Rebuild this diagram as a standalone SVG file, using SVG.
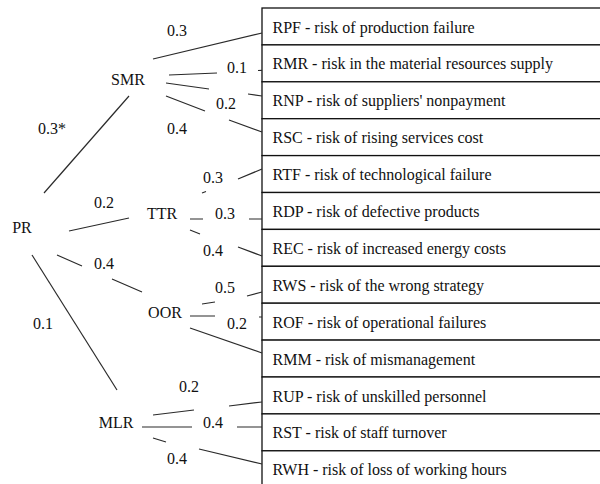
<svg xmlns="http://www.w3.org/2000/svg" width="600" height="484" viewBox="0 0 600 484">
<style>
text{font-family:'Liberation Serif','Times New Roman',Times,'DejaVu Serif',serif;font-size:16px;fill:#111}
.c{text-anchor:middle}
.row{fill:#fff;stroke:#111;stroke-width:1.3}
.conn path{fill:none;stroke:#2a2a2a;stroke-width:1.2}
</style>
<rect width="600" height="484" fill="#fff"/>
<g id="risk-table" font-family="Liberation Serif, Times New Roman, serif">
<g id="RPF"><rect class="row" x="262" y="8" width="350" height="36.9"/><text x="272.5" y="32.5">RPF - risk of production failure</text></g>
<g id="RMR"><rect class="row" x="262" y="44.9" width="350" height="36.9"/><text x="272.5" y="69.4">RMR - risk in the material resources supply</text></g>
<g id="RNP"><rect class="row" x="262" y="81.8" width="350" height="36.9"/><text x="272.5" y="106.3">RNP - risk of suppliers' nonpayment</text></g>
<g id="RSC"><rect class="row" x="262" y="118.7" width="350" height="36.9"/><text x="272.5" y="143.2">RSC - risk of rising services cost</text></g>
<g id="RTF"><rect class="row" x="262" y="155.6" width="350" height="36.9"/><text x="272.5" y="180.1">RTF - risk of technological failure</text></g>
<g id="RDP"><rect class="row" x="262" y="192.5" width="350" height="36.9"/><text x="272.5" y="217">RDP - risk of defective products</text></g>
<g id="REC"><rect class="row" x="262" y="229.4" width="350" height="36.9"/><text x="272.5" y="253.9">REC - risk of increased energy costs</text></g>
<g id="RWS"><rect class="row" x="262" y="266.3" width="350" height="36.9"/><text x="272.5" y="290.8">RWS - risk of the wrong strategy</text></g>
<g id="ROF"><rect class="row" x="262" y="303.2" width="350" height="36.9"/><text x="272.5" y="327.7">ROF - risk of operational failures</text></g>
<g id="RMM"><rect class="row" x="262" y="340.1" width="350" height="36.9"/><text x="272.5" y="364.6">RMM - risk of mismanagement</text></g>
<g id="RUP"><rect class="row" x="262" y="377" width="350" height="36.9"/><text x="272.5" y="401.5">RUP - risk of unskilled personnel</text></g>
<g id="RST"><rect class="row" x="262" y="413.9" width="350" height="36.9"/><text x="272.5" y="438.4">RST - risk of staff turnover</text></g>
<g id="RWH"><rect class="row" x="262" y="450.8" width="350" height="36.9"/><text x="272.5" y="475.3">RWH - risk of loss of working hours</text></g>
</g>
<g id="connectors" class="conn">
<path d="M153,59 L262,33"/>
<path d="M169,75 L217,73 M258,70.5 L262,70.3"/>
<path d="M166,83 L209,89 M248,94 L262,96"/>
<path d="M166,96 L205,111 M229,120 L262,132"/>
<path d="M44,193 L129,96"/>
<path d="M202,193 L206,191.5 M238,179 L262,169"/>
<path d="M69,231 L129,218"/>
<path d="M190,219 L203,219 M249,219 L262,219"/>
<path d="M190,230 L200,234 M238,247 L262,256"/>
<path d="M57,255 L82,266 M112,279 L142,292"/>
<path d="M202,304 L215,302 M247,296 L262,292"/>
<path d="M190,316 L215,316 M259,317 L262,317"/>
<path d="M190,328 L262,353"/>
<path d="M32,255 L117,390"/>
<path d="M153,415 L194,410 M229,406 L262,402"/>
<path d="M142,427 L192,427 M237,427 L262,427"/>
<path d="M153,438 L166,442 M199,449 L262,464"/>
</g>
<g id="PR"><text class="c" x="22" y="232.5">PR</text></g>
<g id="SMR"><text class="c" x="128" y="84.5">SMR</text></g>
<g id="TTR"><text class="c" x="162" y="218.5">TTR</text></g>
<g id="OOR"><text class="c" x="165" y="317.5">OOR</text></g>
<g id="MLR"><text class="c" x="116" y="427.5">MLR</text></g>
<g id="weights">
<text class="c" x="177" y="35.5">0.3</text>
<text class="c" x="237" y="72.5">0.1</text>
<text class="c" x="226" y="108.5">0.2</text>
<text class="c" x="177" y="133.5">0.4</text>
<text class="c" x="52" y="133.5">0.3*</text>
<text class="c" x="213" y="182.5">0.3</text>
<text class="c" x="104" y="207.5">0.2</text>
<text class="c" x="225" y="218.5">0.3</text>
<text class="c" x="213" y="255.5">0.4</text>
<text class="c" x="104" y="268.5">0.4</text>
<text class="c" x="225" y="292.5">0.5</text>
<text class="c" x="237" y="328.5">0.2</text>
<text class="c" x="43" y="328.5">0.1</text>
<text class="c" x="189" y="391.5">0.2</text>
<text class="c" x="213" y="427.5">0.4</text>
<text class="c" x="177" y="463.5">0.4</text>
</g>
</svg>
